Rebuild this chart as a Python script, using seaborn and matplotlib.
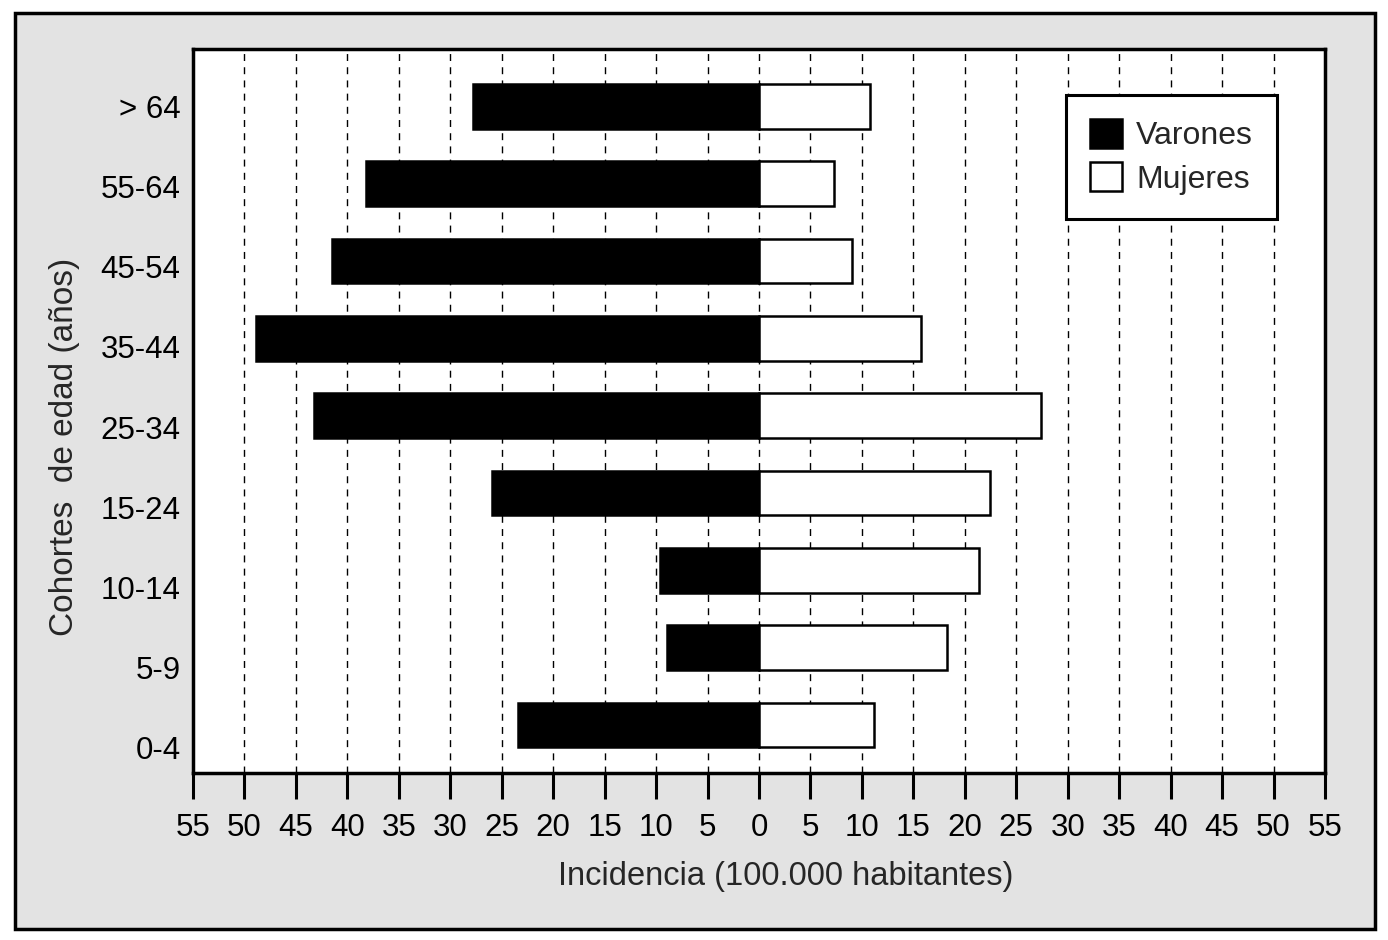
import numpy as np
import pandas as pd
import matplotlib
matplotlib.use('Agg')
import matplotlib.pyplot as plt
import matplotlib.patches as mpatches
import seaborn as sns

# data (incidence per 100.000 inhabitants)
cohorts = ['> 64', '55-64', '45-54', '35-44', '25-34', '15-24', '10-14', '5-9', '0-4']
varones = [27.8, 38.2, 41.5, 48.9, 43.2, 25.9, 9.6, 8.9, 23.4]
mujeres = [10.8, 7.3, 9.0, 15.7, 27.4, 22.4, 21.4, 18.3, 11.2]
xticks = list(range(-55, 60, 5))

df = pd.DataFrame({'cohorte': cohorts, 'varones': varones, 'mujeres': mujeres})
df['varones_neg'] = -df['varones']

sns.set_style('white')
plt.rcParams['font.family'] = ['Liberation Sans', 'DejaVu Sans']

fig = plt.figure(figsize=(13.88, 9.40), dpi=100)
fig.patch.set_facecolor('white')
# grey panel with black border
fig.patches.append(mpatches.Rectangle((15 / 1388, 1 - 929 / 940), 1360 / 1388, 916 / 940,
                                      transform=fig.transFigure, facecolor='#e3e3e3',
                                      edgecolor='black', linewidth=2.5, zorder=-1))
ax = fig.add_axes([193 / 1388, 1 - 773 / 940, 1132 / 1388, 724 / 940])
ax.set_facecolor('white')

sns.barplot(data=df, x='varones_neg', y='cohorte', order=cohorts, orient='h',
            color='black', edgecolor='black', linewidth=1.8, width=0.58,
            saturation=1, ax=ax, zorder=3)
sns.barplot(data=df, x='mujeres', y='cohorte', order=cohorts, orient='h',
            color='white', edgecolor='black', linewidth=1.8, width=0.58,
            saturation=1, ax=ax, zorder=3)

ax.set_xlim(-55, 55)
ax.set_ylim(8.62, -0.74)
ax.set_xticks(xticks)
ax.set_xticklabels([str(abs(t)) for t in xticks])
ax.set_yticks(np.arange(len(cohorts)) * 1.037)
ax.set_yticklabels(cohorts)

for t in xticks[1:-1]:
    ax.axvline(t, color='black', linewidth=1.0, linestyle=(0, (5, 4.5)), zorder=1)

for s in ax.spines.values():
    s.set_visible(True)
    s.set_linewidth(2.5)
    s.set_color('black')

ax.tick_params(axis='x', direction='out', length=19, width=2.2, pad=10,
               labelsize=22.5, colors='black', bottom=True)
ax.tick_params(axis='y', length=0, pad=9, labelsize=22.5, colors='black')

ax.set_xlabel('Incidencia (100.000 habitantes)', fontsize=23.5)
ax.set_ylabel('Cohortes  de edad (años)', fontsize=24)
ax.xaxis.set_label_coords(0.524, -0.121)
ax.yaxis.set_label_coords(-0.1, 0.45)

handles = [mpatches.Patch(facecolor='black', edgecolor='black', linewidth=1.8, label='Varones'),
           mpatches.Patch(facecolor='white', edgecolor='black', linewidth=1.8, label='Mujeres')]
leg = ax.legend(handles=handles, loc='upper right', bbox_to_anchor=(0.9576, 0.9365),
                fontsize=23, frameon=True, fancybox=False, handlelength=1.0,
                handleheight=1.0, handletextpad=0.45, labelspacing=0.35,
                borderpad=0.75, borderaxespad=0)
leg.get_frame().set_edgecolor('black')
leg.get_frame().set_linewidth(2.2)
leg.get_frame().set_alpha(1)
leg.set_zorder(5)

fig.savefig('out.png', dpi=100)
